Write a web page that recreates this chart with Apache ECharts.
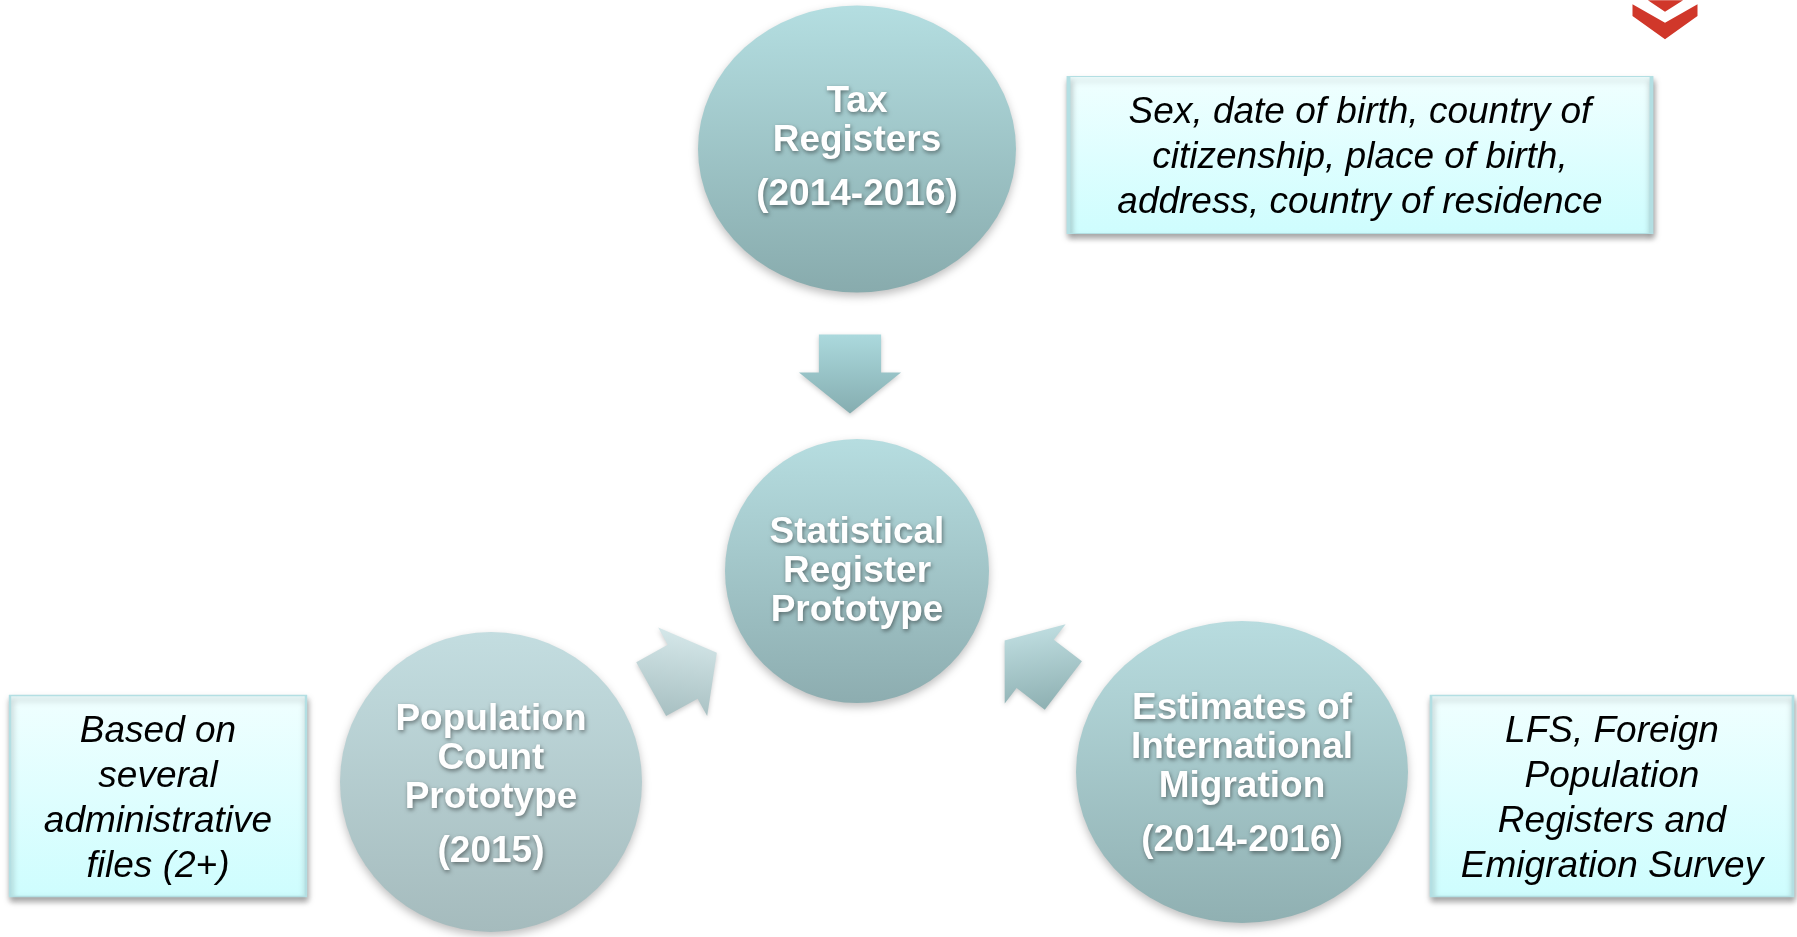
<!DOCTYPE html>
<html>
<head>
<meta charset="utf-8">
<script src="https://cdn.jsdelivr.net/npm/echarts/dist/echarts.min.js"></script>
<style>
html, body { margin: 0; padding: 0; background: #fff; }
#chart { width: 1797px; height: 937px; }
</style>
</head>
<body>
<div id="chart"></div>
<script>
// diagram nodes (circles)
var nodeNames = [['Tax', 'Registers'], ['Statistical', 'Register', 'Prototype'], ['Population', 'Count', 'Prototype'], ['Estimates of', 'International', 'Migration']];
var nodeYears = ['(2014-2016)', '', '(2015)', '(2014-2016)'];
var nodeX = [857, 857, 491, 1242];
var nodeY = [149, 571, 782, 772];

// side notes (boxes)
var noteTexts = [
    ['Sex, date of birth, country of', 'citizenship, place of birth,', 'address, country of residence'],
    ['Based on', 'several', 'administrative', 'files (2+)'],
    ['LFS, Foreign', 'Population', 'Registers and', 'Emigration Survey']
];
var noteX = [1360, 158, 1612];
var noteY = [155, 796, 796];

// arrows towards the central node
var arrowX = [850, 684, 1034];
var arrowY = [374, 671, 663];
var arrowAngle = [-90, 29, 142.5];

var nodeSize = [[318, 287], [264, 264], [302, 300], [332, 302]];
var nodeTextShift = [7, 1, 11, 10];
var nodeColors = [['#b4dee1', '#88abad'], ['#b6dde0', '#8dadb0'], ['#c3dde0', '#a5bbbd'], ['#b8dcdf', '#90b0b2']];
var noteSize = [[583, 157], [296, 201], [362, 201]];
var arrowSize = [[79, 102], [75, 101], [74, 100]];
var arrowColors = [['#abd9dd', '#85adb0'], ['#d8eaec', '#a8c0c2'], ['#c4e2e5', '#90b2b4']];

var font = '"Liberation Sans", Arial, sans-serif';
var chart = echarts.init(document.getElementById('chart'));

function vGrad(c) {
    return new echarts.graphic.LinearGradient(0, 0, 0, 1, [{ offset: 0, color: c[0] }, { offset: 1, color: c[1] }]);
}

// keep the gradient vertical on screen after the symbol is rotated
function rotGrad(c, deg) {
    var r = deg * Math.PI / 180, s = Math.sin(r), k = Math.cos(r);
    return new echarts.graphic.LinearGradient(0.5 + s / 2, 0.5 - k / 2, 0.5 - s / 2, 0.5 + k / 2,
        [{ offset: 0, color: c[0] }, { offset: 1, color: c[1] }]);
}

var shadowText = {
    color: '#fff', fontFamily: font, fontWeight: 'bold', fontSize: 37,
    textShadowColor: 'rgba(0,0,0,0.45)', textShadowBlur: 4, textShadowOffsetX: 1, textShadowOffsetY: 2
};

var nodeData = nodeNames.map(function (lines, i) {
    return {
        value: [nodeX[i], nodeY[i]],
        symbolSize: nodeSize[i],
        itemStyle: { color: vGrad(nodeColors[i]) },
        label: { offset: [0, nodeTextShift[i]] },
        lines: lines,
        year: nodeYears[i]
    };
});

var noteData = noteTexts.map(function (lines, i) {
    return { value: [noteX[i], noteY[i]], symbolSize: noteSize[i], lines: lines };
});

var arrowData = arrowAngle.map(function (a, i) {
    return {
        value: [arrowX[i], arrowY[i]],
        symbolSize: arrowSize[i],
        symbolRotate: a,
        itemStyle: { color: rotGrad(arrowColors[i], a) }
    };
});

var option = {
    animation: false,
    grid: { left: 0, right: 0, top: 0, bottom: 0 },
    xAxis: { type: 'value', min: 0, max: 1797, show: false },
    yAxis: { type: 'value', min: 0, max: 937, inverse: true, show: false },
    series: [
        {
            type: 'scatter', z: 2, clip: false, silent: true,
            symbol: 'rect',
            itemStyle: {
                opacity: 1,
                color: vGrad(['#f0ffff', '#cefdfe']),
                borderColor: '#b3dfe3', borderWidth: 2,
                shadowColor: 'rgba(0,0,0,0.35)', shadowBlur: 6, shadowOffsetX: 1, shadowOffsetY: 4
            },
            label: {
                show: true, position: 'inside', color: '#000', fontFamily: font,
                fontStyle: 'italic', fontSize: 37, lineHeight: 45, align: 'center', offset: [0, 3],
                formatter: function (p) { return p.data.lines.join('\n'); }
            },
            data: noteData
        },
        {
            type: 'scatter', z: 3, clip: false, silent: true,
            symbol: 'path://M0,19.5 L48,19.5 L48,0 L100,50 L48,100 L48,80.5 L0,80.5 Z',
            itemStyle: { opacity: 1, shadowColor: 'rgba(0,0,0,0.2)', shadowBlur: 5, shadowOffsetY: 2 },
            data: arrowData
        },
        {
            type: 'scatter', z: 4, clip: false, silent: true,
            symbol: 'circle',
            itemStyle: { opacity: 1, shadowColor: 'rgba(0,0,0,0.25)', shadowBlur: 8, shadowOffsetY: 4 },
            label: {
                show: true, position: 'inside',
                formatter: function (p) {
                    var s = p.data.lines.map(function (l) { return '{n|' + l + '}'; }).join('\n');
                    if (p.data.year) s += '\n{y|' + p.data.year + '}';
                    return s;
                },
                rich: {
                    n: Object.assign({ lineHeight: 39 }, shadowText),
                    y: Object.assign({ lineHeight: 69 }, shadowText)
                }
            },
            data: nodeData
        },
        {
            type: 'scatter', z: 5, clip: false, silent: true,
            symbol: 'path://M15.3,0 L50.3,0 L32.3,11.7 Z M0,4 L32.3,22.7 L64.6,4 L64.6,16 L32.3,39.3 L0,16 Z',
            symbolSize: [65, 39],
            itemStyle: { opacity: 1, color: '#d0372a' },
            data: [[1665, 19.7]]
        }
    ]
};

chart.setOption(option);
</script>
</body>
</html>
